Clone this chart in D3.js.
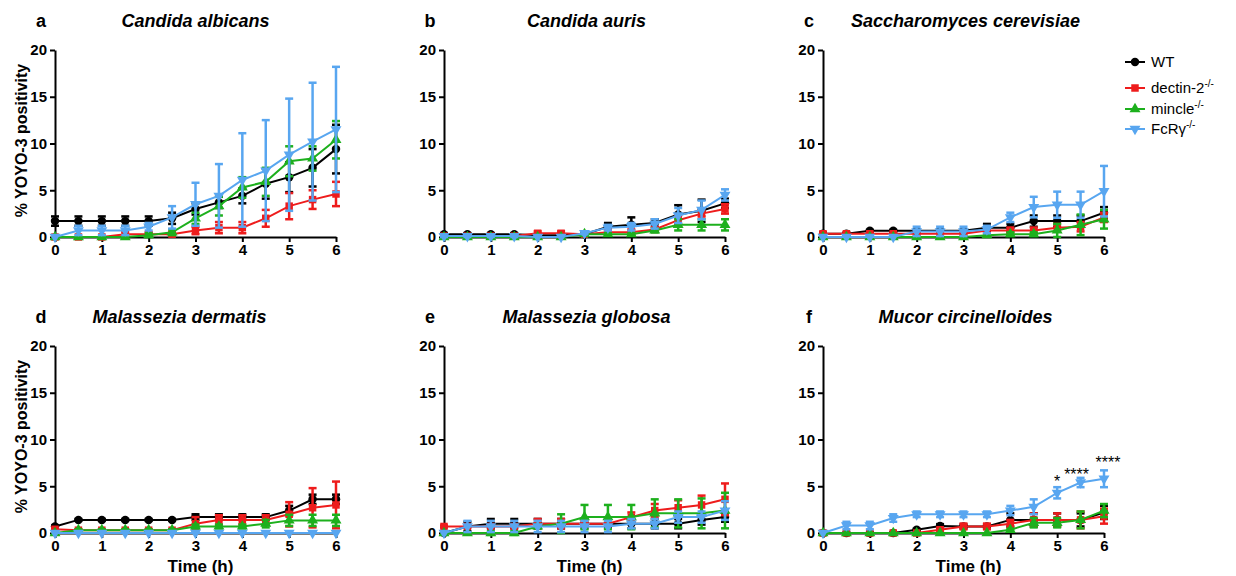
<!DOCTYPE html>
<html>
<head>
<meta charset="utf-8">
<script src="https://cdn.jsdelivr.net/npm/d3@7"></script>
<style>
  body { margin: 0; background: #fff; }
  svg { display: block; font-family: "Liberation Sans", Arial, sans-serif; }
  .tick-label { font-size: 15px; font-weight: bold; }
</style>
</head>
<body>
<div id="chart"></div>
<script>
// time points (h)
const times = [0, 0.5, 1, 1.5, 2, 2.5, 3, 3.5, 4, 4.5, 5, 5.5, 6];
const yTicks = [0, 5, 10, 15, 20];
const xTicks = [0, 1, 2, 3, 4, 5, 6];

const seriesNames = ["WT", "dectin-2", "mincle", "FcRγ"];
const panelLetters = ["a", "b", "c", "d", "e", "f"];
const panelTitles = ["Candida albicans", "Candida auris", "Saccharomyces cerevisiae",
  "Malassezia dermatis", "Malassezia globosa", "Mucor circinelloides"];

// a: Candida albicans
const albicansWT      = [1.7, 1.7, 1.7, 1.7, 1.7, 2.0, 3.0, 3.7, 4.4, 5.7, 6.4, 7.4, 9.4];
const albicansWTsd    = [0.5, 0.5, 0.5, 0.5, 0.5, 0.6, 0.6, 0.6, 0.8, 1.6, 1.6, 2.0, 2.6];
const albicansDec     = [0, 0, 0, 0.3, 0.3, 0.3, 0.7, 1.0, 1.0, 2.0, 3.3, 4.0, 4.6];
const albicansDecSd   = [0, 0, 0, 0.2, 0.2, 0.2, 0.4, 0.6, 0.6, 0.9, 1.4, 1.0, 1.3];
const albicansMin     = [0, 0, 0, 0, 0.2, 0.5, 2.0, 3.3, 5.3, 5.9, 8.1, 8.4, 10.4];
const albicansMinSd   = [0, 0, 0, 0, 0.2, 0.3, 0.6, 1.0, 1.1, 1.5, 1.6, 1.3, 2.0];
const albicansFc      = [0, 0.7, 0.7, 0.7, 1.1, 2.1, 3.5, 4.4, 6.1, 7.1, 8.8, 10.2, 11.5];
const albicansFcSd    = [0, 0.5, 0.5, 0.5, 0.4, 1.2, 2.3, 3.4, 5.0, 5.4, 6.0, 6.3, 6.7];

// b: Candida auris
const aurisWT    = [0.3, 0.3, 0.3, 0.3, 0.2, 0.2, 0.3, 1.1, 1.3, 1.5, 2.4, 2.8, 3.6];
const aurisWTsd  = [0.1, 0.1, 0.1, 0.1, 0.1, 0.1, 0.1, 0.4, 0.8, 0.4, 1.0, 1.2, 0.5];
const aurisDec   = [0.1, 0.1, 0.1, 0.1, 0.4, 0.4, 0.3, 0.5, 0.5, 0.8, 1.8, 2.5, 3.0];
const aurisDecSd = [0.1, 0.1, 0.1, 0.1, 0.2, 0.2, 0.1, 0.3, 0.3, 0.2, 0.5, 0.3, 0.5];
const aurisMin   = [0, 0, 0, 0, 0, 0, 0.3, 0.3, 0.3, 0.7, 1.3, 1.3, 1.3];
const aurisMinSd = [0, 0, 0, 0, 0, 0, 0.1, 0.1, 0.1, 0.2, 0.6, 0.6, 0.6];
const aurisFc    = [0.1, 0.1, 0.1, 0.1, 0, 0, 0.4, 1.0, 1.1, 1.4, 2.3, 2.9, 4.5];
const aurisFcSd  = [0.1, 0.1, 0.1, 0.1, 0, 0, 0.1, 0.3, 0.4, 0.5, 0.8, 1.0, 0.6];

// c: Saccharomyces cerevisiae
const cerevWT    = [0.35, 0.35, 0.66, 0.66, 0.66, 0.66, 0.66, 1.0, 1.0, 1.7, 1.7, 1.7, 2.6];
const cerevWTsd  = [0.1, 0.1, 0.1, 0.1, 0.1, 0.1, 0.1, 0.4, 0.4, 0.6, 0.6, 0.6, 0.6];
const cerevDec   = [0.35, 0.35, 0.35, 0.35, 0.35, 0.35, 0.35, 0.7, 0.7, 0.7, 1.0, 1.1, 2.1];
const cerevDecSd = [0.1, 0.1, 0.1, 0.1, 0.1, 0.1, 0.1, 0.3, 0.3, 0.3, 0.4, 0.5, 0.5];
const cerevMin   = [0, 0, 0, 0, 0, 0, 0, 0.2, 0.3, 0.3, 0.7, 1.3, 1.9];
const cerevMinSd = [0, 0, 0, 0, 0, 0, 0, 0.1, 0.2, 0.2, 0.7, 1.1, 1.0];
const cerevFc    = [0, 0, 0, 0, 0.6, 0.6, 0.6, 0.8, 2.1, 3.2, 3.45, 3.45, 4.9];
const cerevFcSd  = [0, 0, 0, 0, 0.5, 0.5, 0.5, 0.4, 0.5, 1.1, 1.4, 1.4, 2.7];

// d: Malassezia dermatis
const dermWT    = [0.7, 1.4, 1.4, 1.4, 1.4, 1.4, 1.7, 1.7, 1.7, 1.7, 2.4, 3.6, 3.6];
const dermWTsd  = [0.1, 0.1, 0.1, 0.1, 0.1, 0.1, 0.3, 0.3, 0.3, 0.3, 0.5, 0.5, 0.5];
const dermDec   = [0.4, 0.3, 0.3, 0.3, 0.3, 0.3, 1.0, 1.4, 1.4, 1.4, 2.0, 2.7, 3.0];
const dermDecSd = [0.1, 0.1, 0.1, 0.1, 0.1, 0.1, 0.7, 0.5, 0.5, 0.5, 1.3, 2.1, 2.5];
const dermMin   = [0, 0.3, 0.3, 0.3, 0.3, 0.3, 0.7, 0.7, 0.7, 1.0, 1.35, 1.35, 1.35];
const dermMinSd = [0, 0.1, 0.1, 0.1, 0.1, 0.1, 0.2, 0.2, 0.2, 0.4, 0.6, 0.6, 0.6];
const dermFc    = [0, 0, 0, 0, 0, 0, 0, 0, 0, 0, 0, 0, 0];
const dermFcSd  = [0, 0, 0, 0, 0, 0, 0, 0, 0, 0, 0, 0, 0];

// e: Malassezia globosa
const globWT    = [0, 0.7, 1.0, 1.0, 1.0, 1.0, 1.0, 1.0, 1.0, 1.0, 1.0, 1.4, 1.7];
const globWTsd  = [0, 0.5, 0.5, 0.5, 0.5, 0.5, 0.5, 0.5, 0.5, 0.5, 0.5, 0.5, 0.5];
const globDec   = [0.7, 0.7, 0.7, 0.7, 1.0, 1.0, 1.0, 1.0, 1.7, 2.4, 2.7, 3.0, 3.6];
const globDecSd = [0.1, 0.1, 0.1, 0.1, 0.5, 0.5, 0.2, 0.2, 0.5, 0.7, 0.8, 1.0, 1.7];
const globMin   = [0, 0, 0, 0, 0.7, 1.0, 1.7, 1.7, 1.7, 2.1, 2.1, 2.1, 2.4];
const globMinSd = [0, 0, 0.2, 0.2, 0.2, 1.0, 1.3, 1.3, 1.3, 1.5, 1.5, 1.6, 1.9];
const globFc    = [0, 0.7, 0.7, 0.7, 0.7, 0.7, 0.7, 0.7, 1.0, 1.0, 1.7, 1.7, 2.4];
const globFcSd  = [0, 0.6, 0.6, 0.6, 0.6, 0.6, 0.6, 0.6, 0.5, 0.5, 0.6, 0.6, 1.0];

// f: Mucor circinelloides
const mucorWT    = [0, 0, 0, 0, 0.35, 0.75, 0.7, 0.7, 1.4, 1.4, 1.4, 1.4, 2.2];
const mucorWTsd  = [0, 0, 0, 0, 0.1, 0.2, 0.2, 0.2, 0.7, 0.7, 0.7, 0.7, 0.7];
const mucorDec   = [0, 0, 0, 0, 0, 0.35, 0.7, 0.7, 1.0, 1.4, 1.4, 1.4, 1.8];
const mucorDecSd = [0, 0, 0, 0, 0, 0.2, 0.3, 0.3, 0.4, 0.7, 0.7, 0.9, 0.8];
const mucorMin   = [0, 0, 0, 0, 0, 0, 0, 0, 0.35, 1.1, 1.1, 1.4, 2.4];
const mucorMinSd = [0, 0, 0, 0, 0, 0, 0, 0, 0.1, 0.5, 0.5, 0.9, 0.7];
const mucorFc    = [0, 0.8, 0.8, 1.6, 2.0, 2.0, 2.0, 2.0, 2.4, 2.8, 4.3, 5.4, 5.8];
const mucorFcSd  = [0, 0.4, 0.4, 0.4, 0.3, 0.3, 0.3, 0.3, 0.5, 0.8, 0.6, 0.5, 0.9];

// significance marks on panel f (FcRγ vs WT)
const starTimes = [5, 5.5, 6];
const starLabels = ["*", "****", "****"];

const panelMeans = [
  [albicansWT, albicansDec, albicansMin, albicansFc],
  [aurisWT, aurisDec, aurisMin, aurisFc],
  [cerevWT, cerevDec, cerevMin, cerevFc],
  [dermWT, dermDec, dermMin, dermFc],
  [globWT, globDec, globMin, globFc],
  [mucorWT, mucorDec, mucorMin, mucorFc]
];
const panelSds = [
  [albicansWTsd, albicansDecSd, albicansMinSd, albicansFcSd],
  [aurisWTsd, aurisDecSd, aurisMinSd, aurisFcSd],
  [cerevWTsd, cerevDecSd, cerevMinSd, cerevFcSd],
  [dermWTsd, dermDecSd, dermMinSd, dermFcSd],
  [globWTsd, globDecSd, globMinSd, globFcSd],
  [mucorWTsd, mucorDecSd, mucorMinSd, mucorFcSd]
];

const colors = ["#000000", "#ee1c1c", "#1db01d", "#58a6f0"];
const symbols = [
  { type: d3.symbolCircle, size: 56, rot: 0 },
  { type: d3.symbolSquare, size: 56, rot: 0 },
  { type: d3.symbolTriangle, size: 52, rot: 0 },
  { type: d3.symbolTriangle, size: 52, rot: 180 }
];

const W = 1236, H = 576;
const colX = [55, 444, 823];
const rowY = [50, 346];
const plotW = 281, plotH = 187;
const titleShift = [0, 2, 2, -16, 2, 2];
const starLift = [0, -2, 2];
const starNudge = [0, -4, 4];

const svg = d3.select("#chart").append("svg")
  .attr("width", W).attr("height", H);

panelTitles.forEach((title, p) => {
  const col = p % 3, row = Math.floor(p / 3);
  const g = svg.append("g")
    .attr("transform", `translate(${colX[col]},${rowY[row]})`);

  const x = d3.scaleLinear().domain([0, 6]).range([0, plotW]);
  const y = d3.scaleLinear().domain([0, 20]).range([plotH, 0]);

  // axes
  const yAxis = g.append("g")
    .call(d3.axisLeft(y).tickValues(yTicks).tickFormat(d3.format("d"))
      .tickSize(5).tickPadding(3).tickSizeOuter(0));
  const xAxis = g.append("g")
    .attr("transform", `translate(0,${plotH})`)
    .call(d3.axisBottom(x).tickValues(xTicks).tickFormat(d3.format("d"))
      .tickSize(5).tickPadding(2).tickSizeOuter(0));
  [yAxis, xAxis].forEach(a => {
    a.select(".domain").attr("stroke", "#000").attr("stroke-width", 2);
    a.selectAll(".tick line").attr("stroke", "#000").attr("stroke-width", 2);
    a.selectAll(".tick text").attr("class", "tick-label").attr("fill", "#000")
      .style("font-family", "'Liberation Sans', Arial, sans-serif");
  });

  // titles
  g.append("text")
    .attr("x", -14).attr("y", -23)
    .attr("text-anchor", "middle")
    .style("font-size", "18px").style("font-weight", "bold")
    .text(panelLetters[p]);
  g.append("text")
    .attr("x", plotW / 2 + titleShift[p]).attr("y", -23)
    .attr("text-anchor", "middle")
    .style("font-size", "18px").style("font-weight", "bold").style("font-style", "italic")
    .text(title);

  if (col === 0) {
    g.append("text")
      .attr("transform", `translate(-28,${plotH / 2 - 3}) rotate(-90)`)
      .attr("text-anchor", "middle")
      .style("font-size", "16px").style("font-weight", "bold")
      .text("% YOYO-3 positivity");
  }
  if (row === 1) {
    g.append("text")
      .attr("x", plotW / 2 + 5).attr("y", plotH + 39)
      .attr("text-anchor", "middle")
      .style("font-size", "17px").style("font-weight", "bold")
      .text("Time (h)");
  }

  // series
  panelMeans[p].forEach((means, s) => {
    const sds = panelSds[p][s];
    const pts = times.map((t, i) => ({ t, m: means[i], sd: sds[i] }));
    const sg = g.append("g");

    sg.selectAll("line.err").data(pts.filter(d => d.sd > 0)).enter()
      .append("line")
      .attr("x1", d => x(d.t)).attr("x2", d => x(d.t))
      .attr("y1", d => y(d.m - d.sd)).attr("y2", d => y(d.m + d.sd))
      .attr("stroke", colors[s]).attr("stroke-width", 2.5);
    ["lo", "hi"].forEach(k => {
      sg.selectAll("line.cap" + k).data(pts.filter(d => d.sd > 0)).enter()
        .append("line")
        .attr("x1", d => x(d.t) - 4).attr("x2", d => x(d.t) + 4)
        .attr("y1", d => y(k === "lo" ? d.m - d.sd : d.m + d.sd))
        .attr("y2", d => y(k === "lo" ? d.m - d.sd : d.m + d.sd))
        .attr("stroke", colors[s]).attr("stroke-width", 2.5);
    });

    sg.append("path")
      .attr("d", d3.line().x(d => x(d.t)).y(d => y(d.m))(pts))
      .attr("fill", "none").attr("stroke", colors[s]).attr("stroke-width", 2);

    const sym = symbols[s];
    sg.selectAll("path.mk").data(pts).enter()
      .append("path")
      .attr("d", d3.symbol().type(sym.type).size(sym.size))
      .attr("transform", d => `translate(${x(d.t)},${y(d.m)}) rotate(${sym.rot})`)
      .attr("fill", colors[s]);
  });

  // significance stars on Mucor panel
  if (p === 5) {
    const fm = panelMeans[p][3], fs = panelSds[p][3];
    starTimes.forEach((t, i) => {
      const idx = times.indexOf(t);
      g.append("text")
        .attr("x", x(t) + starNudge[i]).attr("y", y(fm[idx] + fs[idx]) - starLift[i])
        .attr("text-anchor", "middle")
        .style("font-size", "16px")
        .text(starLabels[i]);
    });
  }
});

// legend
const legendY = [62, 88, 109, 129];
const leg = svg.append("g").attr("transform", "translate(1125,0)");
seriesNames.forEach((name, s) => {
  const row = leg.append("g").attr("transform", `translate(0,${legendY[s]})`);
  row.append("line").attr("x1", 0).attr("x2", 20)
    .attr("stroke", colors[s]).attr("stroke-width", 2);
  row.append("path")
    .attr("d", d3.symbol().type(symbols[s].type).size(symbols[s].size))
    .attr("transform", `translate(10,0) rotate(${symbols[s].rot})`)
    .attr("fill", colors[s]);
  const t = row.append("text").attr("x", 26).attr("y", 5)
    .style("font-size", "15px");
  t.append("tspan").text(name);
  if (s > 0) {
    t.append("tspan").attr("dy", -6).style("font-size", "10px").text("-/-");
  }
});
</script>
</body>
</html>
